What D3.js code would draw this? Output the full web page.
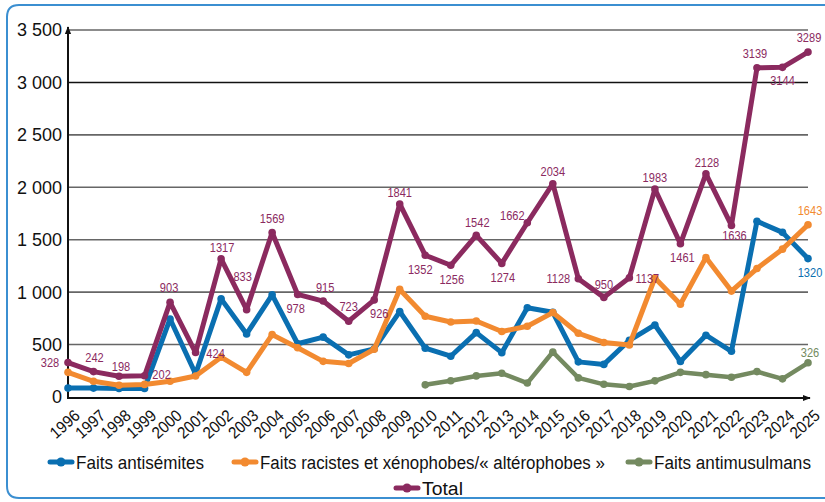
<!DOCTYPE html>
<html>
<head>
<meta charset="utf-8">
<script src="https://cdn.jsdelivr.net/npm/d3@7"></script>
<style>
  body { margin: 0; background: #fff; }
  svg text { font-family: "Liberation Sans Narrow", "Liberation Sans", sans-serif; }
</style>
</head>
<body>
<div id="app"></div>
<script>
var width = 825,
  height = 502;

// data
var years = d3.range(1996, 2026);
var antisemites = [85, 85, 82, 82, 744, 219, 936, 601, 974, 508, 571, 402, 459, 815, 466, 389, 614, 423, 851, 808, 335, 311, 541, 687, 339, 589, 436, 1676, 1570, 1320];
var racistes = [235, 150, 112, 120, 150, 200, 380, 235, 595, 470, 340, 320, 455, 1026, 770, 715, 725, 625, 675, 805, 608, 520, 496, 1135, 885, 1330, 1010, 1225, 1410, 1643];
var antimusulmans = [null, null, null, null, null, null, null, null, null, null, null, null, null, null, 116, 155, 201, 226, 133, 429, 182, 121, 100, 154, 235, 213, 188, 242, 173, 326];
var total = [328, 242, 198, 202, 903, 424, 1317, 833, 1569, 978, 915, 723, 926, 1841, 1352, 1256, 1542, 1274, 1662, 2034, 1128, 950, 1137, 1983, 1461, 2128, 1636, 3139, 3144, 3289];
var yTicks = [0, 500, 1000, 1500, 2000, 2500, 3000, 3500];

// label offsets for the Total values (dx, dy from the point)
var totalLabelOffset = [
  [-18, 0], [1, -14], [2, -10], [17, -2], [-1, -15], [20, 1], [1, -12], [-4, -33],
  [0, -14], [-2, 14], [2, -14], [0, -15], [5, 13], [0, -12], [-5, 14], [1, 14],
  [1, -13], [1, 14], [-15, -7], [0, -12], [-20, 0], [0, -13], [18, 0], [0, -12],
  [2, 13], [1, -12], [3, 10], [-2, -15], [0, 13], [1, -15]
];

var series = [
  { name: "Faits antisémites", values: antisemites, color: "#0a6fb1", w: 5 },
  { name: "Faits racistes et xénophobes/« altérophobes »", values: racistes, color: "#f28a30", w: 5 },
  { name: "Faits antimusulmans", values: antimusulmans, color: "#748a60", w: 4.5 },
  { name: "Total", values: total, color: "#8b2a5f", w: 5 }
];

var svg = d3
  .select("#app")
  .append("svg")
  .attr("width", width)
  .attr("height", height)
  .attr("style", "background-color:#ffffff");

// frame
svg
  .append("path")
  .attr("d", "M830,5 L19,5 Q7,5 7,17 L7,486 Q7,498 19,498 L830,498")
  .attr("fill", "none")
  .attr("stroke", "#3b8fd1")
  .attr("stroke-width", 2);

var x = d3.scaleLinear().domain([1996, 2025]).range([68, 808]);
var y = d3.scaleLinear().domain([0, 3500]).range([397, 30]);

// grid lines
svg
  .append("g")
  .selectAll("line")
  .data(yTicks.filter((d) => d > 0))
  .enter()
  .append("line")
  .attr("x1", x(1996))
  .attr("x2", x(2025))
  .attr("y1", (d) => y(d))
  .attr("y2", (d) => y(d))
  .attr("stroke", (d) => (d == 3000 ? "#111" : "#666"))
  .attr("stroke-width", 1.6);

// y tick labels
svg
  .append("g")
  .selectAll("text")
  .data(yTicks)
  .enter()
  .append("text")
  .attr("x", 62)
  .attr("y", (d) => y(d))
  .attr("dy", "0.36em")
  .attr("text-anchor", "end")
  .style("font-family", "'Liberation Sans', sans-serif")
  .style("font-size", "18px")
  .attr("fill", "#111")
  .text((d) => d3.format(",")(d).replace(",", " "));

// arrows
svg
  .append("defs")
  .append("marker")
  .attr("id", "arrow")
  .attr("viewBox", "0 0 10 10")
  .attr("refX", 9)
  .attr("refY", 5)
  .attr("markerWidth", 4)
  .attr("markerHeight", 4)
  .attr("orient", "auto")
  .append("path")
  .attr("d", "M0,1 L10,5 L0,9 Z")
  .attr("fill", "#111");

svg
  .append("line")
  .attr("x1", x(1996))
  .attr("y1", y(0) + 1)
  .attr("x2", x(1996))
  .attr("y2", y(3500) - 3)
  .attr("stroke", "#111")
  .attr("stroke-width", 2)
  .attr("marker-end", "url(#arrow)");

svg
  .append("line")
  .attr("x1", x(1996) - 1)
  .attr("y1", y(0) + 1)
  .attr("x2", x(2025) + 2)
  .attr("y2", y(0) + 1)
  .attr("stroke", "#111")
  .attr("stroke-width", 2)
  .attr("marker-end", "url(#arrow)");

// x tick labels
svg
  .append("g")
  .selectAll("text")
  .data(years)
  .enter()
  .append("text")
  .attr("transform", (d) => "translate(" + (x(d) + 13) + ",417) rotate(-42) scale(0.92,1)")
  .attr("text-anchor", "end")
  .style("font-size", "16.5px")
  .attr("fill", "#111")
  .text((d) => d);

// lines
var line = d3
  .line()
  .defined((d) => d != null)
  .x((d, i) => x(years[i]))
  .y((d) => y(d));

series.forEach(function (s) {
  svg
    .append("path")
    .datum(s.values)
    .attr("d", line)
    .attr("fill", "none")
    .attr("stroke", s.color)
    .attr("stroke-width", s.w)
    .attr("stroke-linejoin", "round")
    .attr("stroke-linecap", "round");

  svg
    .append("g")
    .selectAll("circle")
    .data(s.values.map((v, i) => [years[i], v]).filter((d) => d[1] != null))
    .enter()
    .append("circle")
    .attr("cx", (d) => x(d[0]))
    .attr("cy", (d) => y(d[1]))
    .attr("r", 3.8)
    .attr("fill", s.color);
});

// value labels
svg
  .append("g")
  .selectAll("text")
  .data(total)
  .enter()
  .append("text")
  .attr("transform", (d, i) =>
    "translate(" + (x(years[i]) + totalLabelOffset[i][0]) + "," + (y(d) + totalLabelOffset[i][1]) + ") scale(0.82,1)")
  .attr("dy", "0.35em")
  .attr("text-anchor", "middle")
  .style("font-size", "13.5px")
  .attr("fill", "#8b2a5f")
  .text((d) => d);

var endLabels = [
  { v: antisemites[29], color: "#0a6fb1", dy: 14 },
  { v: racistes[29], color: "#f28a30", dy: -14 },
  { v: antimusulmans[29], color: "#748a60", dy: -11 }
];
svg
  .append("g")
  .selectAll("text")
  .data(endLabels)
  .enter()
  .append("text")
  .attr("transform", (d) => "translate(" + (x(2025) + 2) + "," + (y(d.v) + d.dy) + ") scale(0.82,1)")
  .attr("dy", "0.35em")
  .attr("text-anchor", "middle")
  .style("font-size", "13.5px")
  .attr("fill", (d) => d.color)
  .text((d) => d.v);

// legend
var legendPos = [
  [50, 462, 128],
  [234, 462, 345],
  [628, 462, 157],
  [396, 488, 41]
];
var legend = svg
  .append("g")
  .selectAll("g")
  .data(series)
  .enter()
  .append("g")
  .attr("transform", (d, i) => "translate(" + legendPos[i][0] + "," + legendPos[i][1] + ")");

legend
  .append("line")
  .attr("x1", 0)
  .attr("x2", 22)
  .attr("stroke", (d) => d.color)
  .attr("stroke-width", 5)
  .attr("stroke-linecap", "round");
legend
  .append("circle")
  .attr("cx", 11)
  .attr("r", 4.5)
  .attr("fill", (d) => d.color);
legend
  .append("text")
  .attr("dy", "0.36em")
  .style("font-size", "19px")
  .attr("fill", "#111")
  .text((d) => d.name)
  .each(function (d, i) {
    // squeeze the text to the narrow width of the original
    var w = this.getComputedTextLength();
    d3.select(this).attr("transform", "translate(26,0) scale(" + legendPos[i][2] / w + ",1)");
  });
</script>
</body>
</html>
